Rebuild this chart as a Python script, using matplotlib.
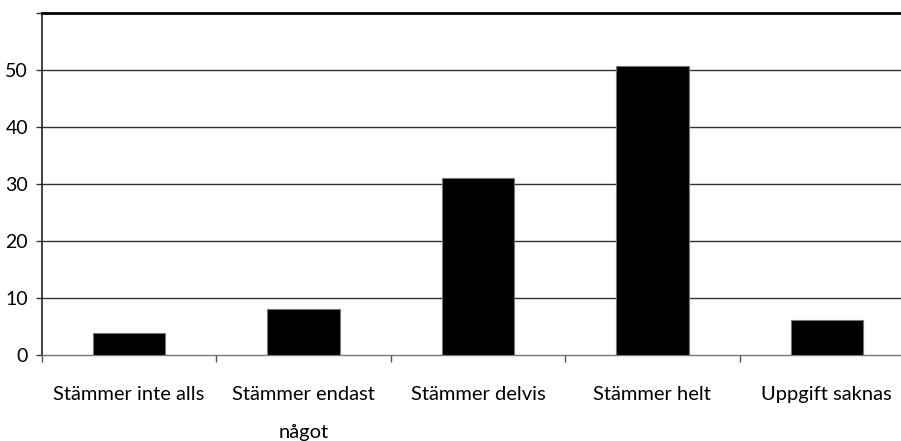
import matplotlib
matplotlib.use("Agg")
from matplotlib import pyplot as plt
import numpy as np

# data
categories = ["Stämmer inte alls", "Stämmer endast\nnågot", "Stämmer delvis",
              "Stämmer helt", "Uppgift saknas"]
values = [3.8, 8.1, 31.0, 50.7, 6.2]
yticks = [0, 10, 20, 30, 40, 50, 60]
ytick_labels = ["0", "10", "20", "30", "40", "50", ""]

plt.rcParams['font.family'] = ['Lato', 'DejaVu Sans']

fig = plt.figure(figsize=(9.01, 4.41), dpi=100)
# axes runs a bit past the right edge, as in the reference
ax = fig.add_axes([0.0465, 0.195, 0.968, 0.7755])

x = np.arange(len(categories))
ax.bar(x + 0.5, values, width=0.415, color="black", edgecolor="#777777",
       linewidth=0.8, zorder=3)

ax.set_xlim(0, len(categories))
ax.set_ylim(0, 60)

# horizontal grid lines
for v in yticks[1:-1]:
    ax.axhline(v, color="#333333", linewidth=1.0, zorder=1)

ax.set_yticks(yticks)
ax.set_yticklabels(ytick_labels)
ax.set_xticks(np.arange(len(categories) + 1))
ax.set_xticklabels([""] * (len(categories) + 1))

# category names between the tick marks
ax.set_xticks(x + 0.5, minor=True)
ax.set_xticklabels(categories, minor=True, linespacing=2.55)
ax.tick_params(axis="x", which="minor", length=0, pad=22, labelsize=14.5)
ax.tick_params(axis="x", which="major", length=5, width=1, color="#555555",
               direction="out")
ax.tick_params(axis="y", length=4, width=1, color="#333333", pad=6,
               labelsize=14)

ax.spines["right"].set_visible(False)
ax.spines["top"].set_linewidth(2.0)
ax.spines["top"].set_color("black")
ax.spines["left"].set_linewidth(1.2)
ax.spines["left"].set_color("#222222")
ax.spines["bottom"].set_linewidth(1.0)
ax.spines["bottom"].set_color("#777777")

fig.savefig("out.png", dpi=100)
